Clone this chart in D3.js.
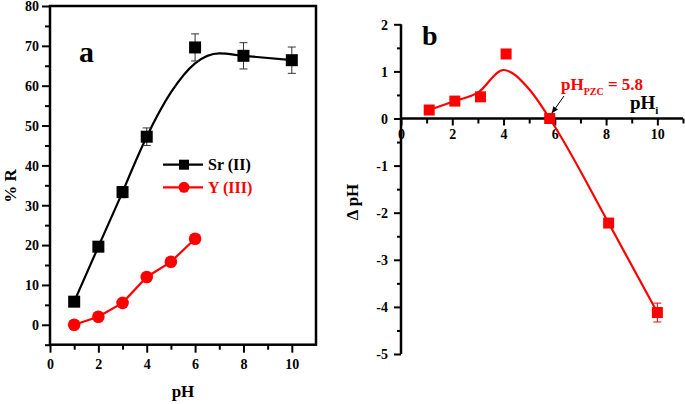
<!DOCTYPE html>
<html><head><meta charset="utf-8">
<script src="https://cdn.jsdelivr.net/npm/d3@7"></script>
<style>body{margin:0;background:#fff}svg{display:block}text{font-family:"Liberation Serif","Times New Roman",serif;font-weight:bold}</style>
</head><body><svg id="c" width="685" height="404"></svg>
<script>
// Panel a data
const pHa = [1, 2, 3, 4, 6, 8, 10];
const srVals = [5.8, 19.6, 33.3, 47.2, 69.6, 67.5, 66.4];
const srErr = [0.8, 0.9, 1.4, 2.2, 3.4, 3.3, 3.3];
const srLineX = [1, 2, 3];
const srLineY = [5.8, 19.6, 33.3];
const srFitX = [3, 4, 5, 6, 7, 8, 10];
const srFitY = [33.3, 47.2, 58.3, 65.6, 68.1, 67.5, 66.4];
const pHy = [1, 2, 3, 4, 5, 6];
const yVals = [0, 2, 5.5, 12, 15.8, 21.6];
const aXTicks = [0, 2, 4, 6, 8, 10];
const aYTicks = [0, 10, 20, 30, 40, 50, 60, 70, 80];
// Panel b data
const pHi = [1.1, 2.1, 3.1, 4.1, 5.8, 8.1, 10.0];
const dpH = [0.18, 0.37, 0.46, 1.37, 0.0, -2.22, -4.12];
const dpHErr = [0, 0, 0, 0, 0, 0, 0.2];
const fitBX = [1.1, 2.1, 3.0, 4.0, 5.0, 5.8, 8.1, 10.0];
const fitBY = [0.18, 0.37, 0.55, 1.03, 0.62, 0.0, -2.22, -4.12];
const bXTicks = [0, 2, 4, 6, 8, 10];
const bYTicks = [-5, -4, -3, -2, -1, 0, 1, 2];

const svg = d3.select("#c");
const RED = "#ff0000";

// ---------- Panel a ----------
const ax = d3.scaleLinear().domain([0, 11]).range([50, 316]);
const ay = d3.scaleLinear().domain([-5, 80]).range([344.7, 6]);
const ga = svg.append("g");

ga.append("g").attr("transform", `translate(0,${ay(-5)})`)
  .call(d3.axisBottom(ax).tickValues(d3.range(1, 11, 2)).tickSize(5).tickFormat(""))
  .call(g => g.select(".domain").remove()).selectAll("line").attr("stroke-width", 2);
ga.append("g").attr("transform", `translate(${ax(0)},0)`)
  .call(d3.axisLeft(ay).tickValues(d3.range(-5, 80, 10)).tickSize(5).tickFormat(""))
  .call(g => g.select(".domain").remove()).selectAll("line").attr("stroke-width", 2);
const axB = ga.append("g").attr("transform", `translate(0,${ay(-5)})`)
  .call(d3.axisBottom(ax).tickValues(aXTicks).tickSize(8).tickPadding(6));
axB.select(".domain").remove();
axB.selectAll("line").attr("stroke-width", 2);
axB.selectAll("text").attr("font-size", 14).attr("fill", "#000");
const axL = ga.append("g").attr("transform", `translate(${ax(0)},0)`)
  .call(d3.axisLeft(ay).tickValues(aYTicks).tickSize(8).tickPadding(3));
axL.select(".domain").remove();
axL.selectAll("line").attr("stroke-width", 2);
axL.selectAll("text").attr("font-size", 14).attr("fill", "#000").attr("dy", "0.35em");
ga.append("rect").attr("x", ax(0)).attr("y", ay(80)).attr("width", ax(11) - ax(0)).attr("height", ay(-5) - ay(80))
  .attr("fill", "none").attr("stroke", "#000").attr("stroke-width", 2.5);

const la = d3.line().x(d => ax(d[0])).y(d => ay(d[1]));
ga.append("path").datum(d3.zip(srLineX, srLineY)).attr("d", la).attr("fill", "none").attr("stroke", "#000").attr("stroke-width", 2.2);
ga.append("path").datum(d3.zip(srFitX, srFitY)).attr("d", d3.line().x(d => ax(d[0])).y(d => ay(d[1])).curve(d3.curveMonotoneX))
  .attr("fill", "none").attr("stroke", "#000").attr("stroke-width", 2.2);
const eb = ga.append("g").attr("stroke", "#333").attr("stroke-width", 1);
pHa.forEach((x, i) => {
  const e = srErr[i], v = srVals[i];
  eb.append("line").attr("x1", ax(x)).attr("x2", ax(x)).attr("y1", ay(v - e)).attr("y2", ay(v + e));
  [v - e, v + e].forEach(t => eb.append("line").attr("x1", ax(x) - 4).attr("x2", ax(x) + 4).attr("y1", ay(t)).attr("y2", ay(t)));
});
ga.selectAll(".sr").data(d3.zip(pHa, srVals)).join("rect")
  .attr("x", d => ax(d[0]) - 6).attr("y", d => ay(d[1]) - 6).attr("width", 12).attr("height", 12).attr("fill", "#000");
ga.append("path").datum(d3.zip(pHy, yVals)).attr("d", d3.line().x(d => ax(d[0])).y(d => ay(d[1])))
  .attr("fill", "none").attr("stroke", RED).attr("stroke-width", 2.2);
ga.selectAll(".yc").data(d3.zip(pHy, yVals)).join("circle")
  .attr("cx", d => ax(d[0])).attr("cy", d => ay(d[1])).attr("r", 6.3).attr("fill", RED);

const lg = ga.append("g");
lg.append("line").attr("x1", 163).attr("x2", 203).attr("y1", 164.7).attr("y2", 164.7).attr("stroke", "#000").attr("stroke-width", 2.2);
lg.append("rect").attr("x", 184 - 5).attr("y", 164.7 - 5).attr("width", 10).attr("height", 10).attr("fill", "#000");
lg.append("text").attr("x", 208).attr("y", 170).attr("font-size", 16).attr("fill", "#000").text("Sr (II)");
lg.append("line").attr("x1", 163).attr("x2", 203).attr("y1", 187.3).attr("y2", 187.3).attr("stroke", RED).attr("stroke-width", 2.2);
lg.append("circle").attr("cx", 184).attr("cy", 187.3).attr("r", 5.5).attr("fill", RED);
lg.append("text").attr("x", 208).attr("y", 192.6).attr("font-size", 16).attr("fill", RED).text("Y (III)");

ga.append("text").attr("x", 79).attr("y", 62).attr("font-size", 30).text("a");
ga.append("text").attr("x", 183).attr("y", 397).attr("text-anchor", "middle").attr("font-size", 17).text("pH");
ga.append("text").attr("transform", "translate(16,186) rotate(-90)").attr("text-anchor", "middle").attr("font-size", 17).text("% R");

// ---------- Panel b ----------
const bx = d3.scaleLinear().domain([0, 11]).range([401, 683]);
const by = d3.scaleLinear().domain([-5, 2]).range([354, 24.3]);
const gb = svg.append("g");

gb.append("g").attr("transform", `translate(${bx(0)},0)`)
  .call(d3.axisLeft(by).tickValues(d3.range(-4.5, 2, 1)).tickSize(4).tickFormat(""))
  .call(g => g.select(".domain").remove()).selectAll("line").attr("stroke-width", 2);
gb.append("g").attr("transform", `translate(0,${by(0)})`)
  .call(d3.axisBottom(bx).tickValues(d3.range(1, 12, 2)).tickSize(5).tickFormat(""))
  .call(g => g.select(".domain").remove()).selectAll("line").attr("stroke-width", 2);
const bxA = gb.append("g").attr("transform", `translate(0,${by(0)})`)
  .call(d3.axisBottom(bx).tickValues(bXTicks).tickSize(7).tickPadding(4));
bxA.select(".domain").remove();
bxA.selectAll("line").attr("stroke-width", 2);
bxA.selectAll("text").attr("font-size", 14).attr("fill", "#000");
const byA = gb.append("g").attr("transform", `translate(${bx(0)},0)`)
  .call(d3.axisLeft(by).tickValues(bYTicks).tickSize(7).tickPadding(6).tickFormat(d => String(d)));
byA.select(".domain").remove();
byA.selectAll("line").attr("stroke-width", 2);
byA.selectAll("text").attr("font-size", 14).attr("fill", "#000").attr("dy", "0.35em");
gb.append("line").attr("x1", bx(0)).attr("x2", bx(0)).attr("y1", by(2)).attr("y2", by(-5)).attr("stroke", "#000").attr("stroke-width", 2.5);
gb.append("line").attr("x1", bx(0)).attr("x2", bx(11)).attr("y1", by(0)).attr("y2", by(0)).attr("stroke", "#000").attr("stroke-width", 2.5);

gb.append("path").datum(d3.zip(fitBX, fitBY))
  .attr("d", d3.line().x(d => bx(d[0])).y(d => by(d[1])).curve(d3.curveMonotoneX))
  .attr("fill", "none").attr("stroke", RED).attr("stroke-width", 2.2);
const ebb = gb.append("g").attr("stroke", RED).attr("stroke-width", 1);
pHi.forEach((x, i) => {
  const e = dpHErr[i], v = dpH[i];
  if (!e) return;
  ebb.append("line").attr("x1", bx(x)).attr("x2", bx(x)).attr("y1", by(v - e)).attr("y2", by(v + e));
  [v - e, v + e].forEach(t => ebb.append("line").attr("x1", bx(x) - 4).attr("x2", bx(x) + 4).attr("y1", by(t)).attr("y2", by(t)));
});
gb.selectAll(".bs").data(d3.zip(pHi, dpH)).join("rect")
  .attr("x", d => bx(d[0]) - 5.5).attr("y", d => by(d[1]) - 5.5).attr("width", 11).attr("height", 11).attr("fill", RED);

svg.append("defs").append("marker").attr("id", "ah").attr("viewBox", "0 0 10 10").attr("refX", 9).attr("refY", 5)
  .attr("markerWidth", 7).attr("markerHeight", 7).attr("orient", "auto")
  .append("path").attr("d", "M0,1 L10,5 L0,9 Z").attr("fill", "#000");
gb.append("line").attr("x1", 564).attr("y1", 96).attr("x2", 552).attr("y2", 113).attr("stroke", "#000").attr("stroke-width", 1).attr("marker-end", "url(#ah)");
const tz = gb.append("text").attr("x", 561).attr("y", 90).attr("font-size", 17).attr("fill", RED);
tz.append("tspan").text("pH");
tz.append("tspan").attr("font-size", 10).attr("dy", 5).text("PZC");
tz.append("tspan").attr("dy", -5).text(" = 5.8");
const ti = gb.append("text").attr("x", 630).attr("y", 109).attr("font-size", 19).attr("fill", "#000");
ti.append("tspan").text("pH");
ti.append("tspan").attr("font-size", 11).attr("dy", 5).text("i");
gb.append("text").attr("x", 422).attr("y", 45).attr("font-size", 28).text("b");
gb.append("text").attr("transform", "translate(358,202) rotate(-90)").attr("text-anchor", "middle").attr("font-size", 17).text("Δ pH");
</script></body></html>
